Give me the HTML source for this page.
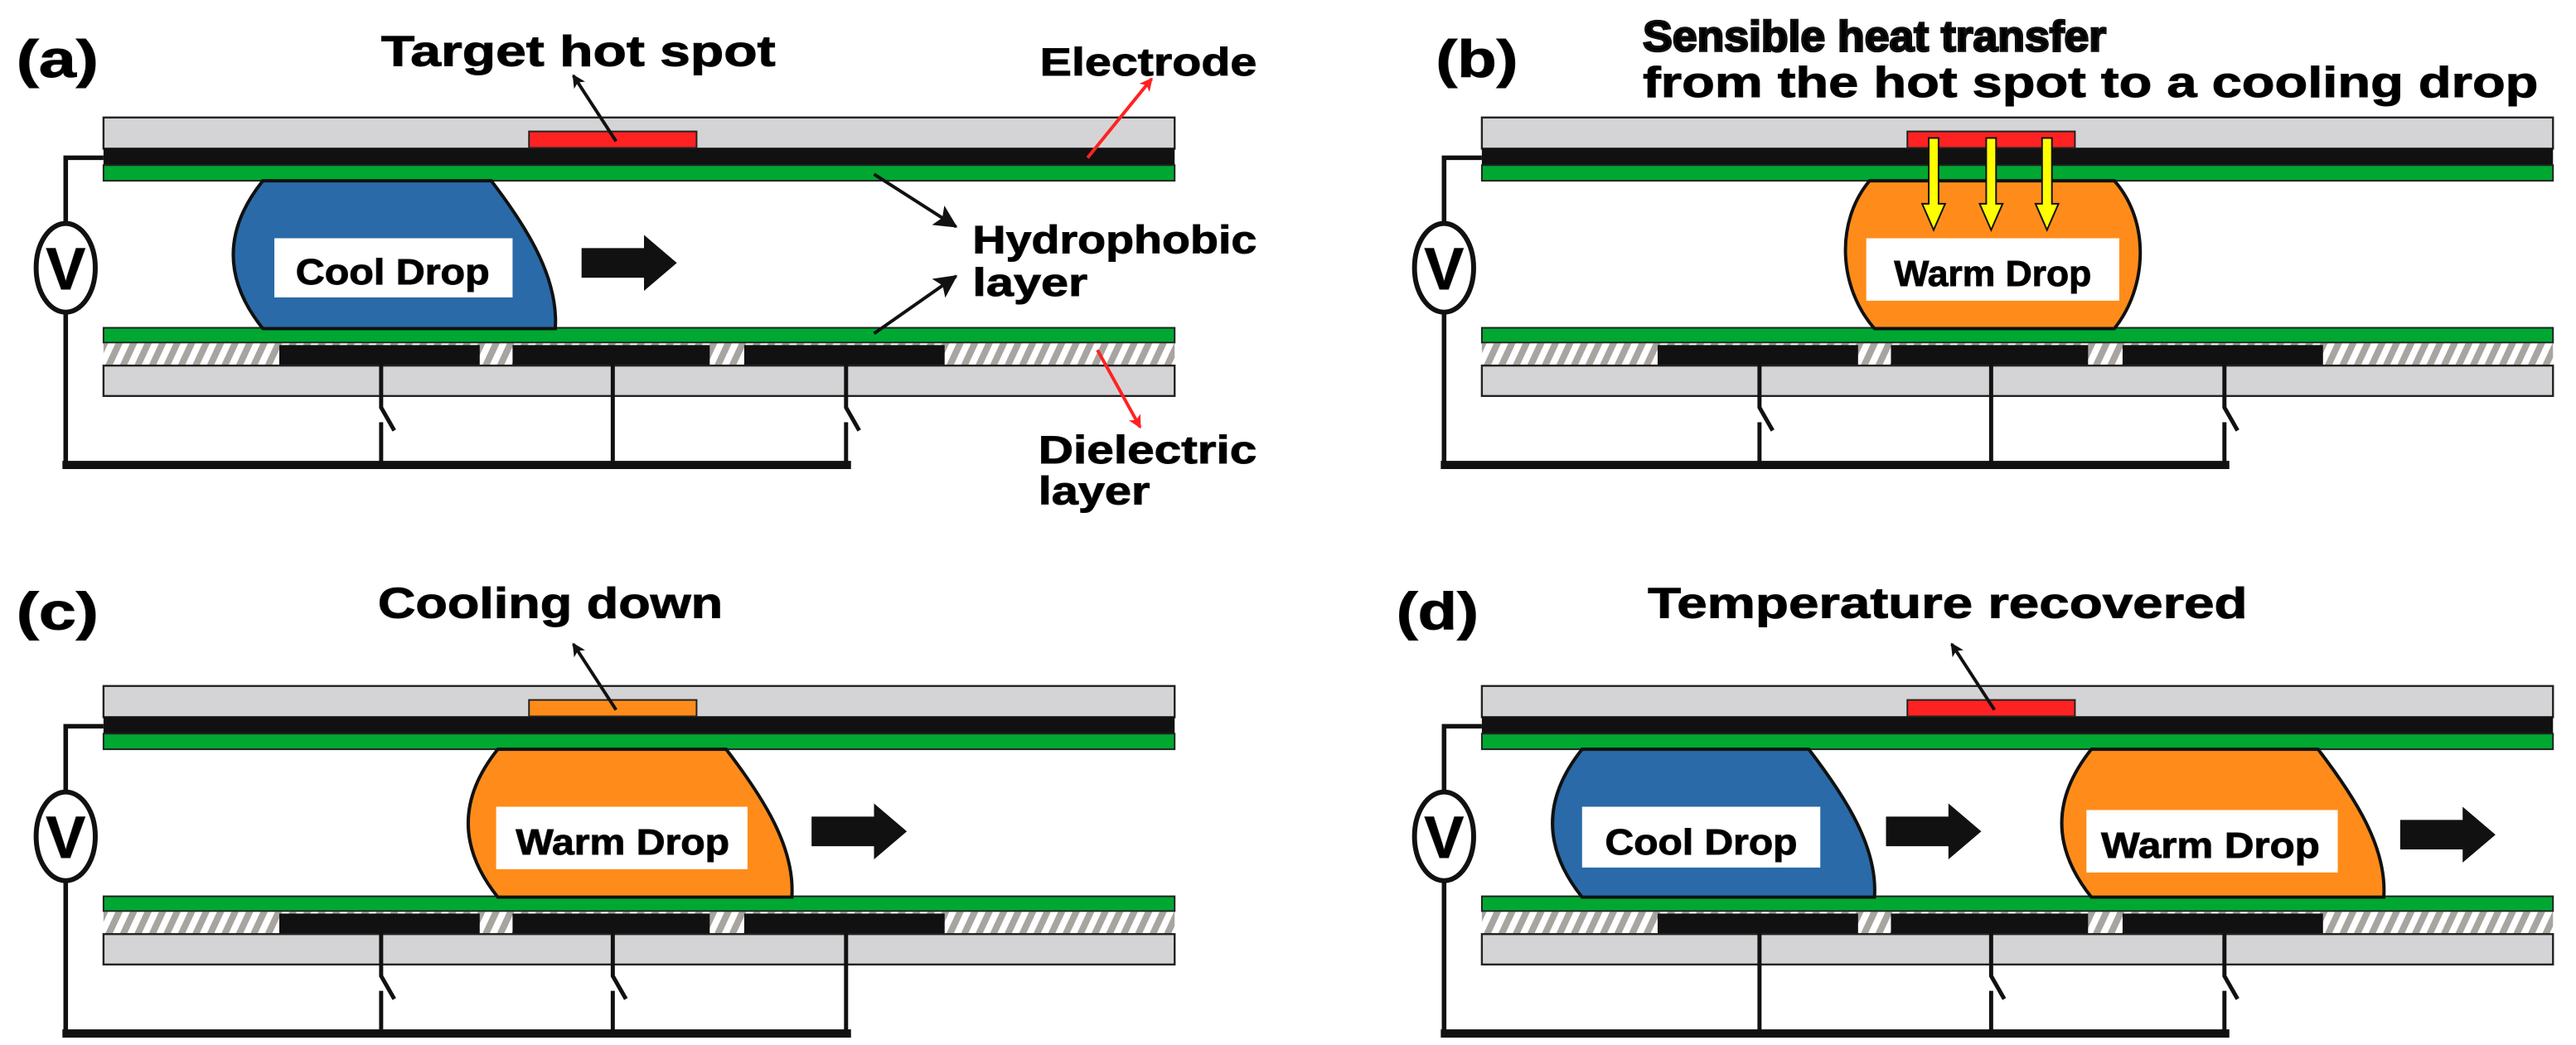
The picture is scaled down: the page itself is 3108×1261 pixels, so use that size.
<!DOCTYPE html>
<html><head><meta charset="utf-8"><style>html,body{margin:0;padding:0;background:#fff}svg{display:block}text{font-weight:bold;stroke:#111;stroke-width:0.5}</style></head>
<body>
<svg xmlns="http://www.w3.org/2000/svg" width="3108" height="1261" viewBox="0 0 1568 636" preserveAspectRatio="none" font-family="Liberation Sans, sans-serif" font-weight="bold">
<defs>
<pattern id="h" width="8" height="8" patternUnits="userSpaceOnUse" patternTransform="rotate(25)">
<rect width="8" height="8" fill="#fff"/><rect width="4" height="8" fill="#a8a4a0"/>
</pattern>
<marker id="ab" markerWidth="8" markerHeight="8" refX="7" refY="4" orient="auto" markerUnits="userSpaceOnUse"><path d="M0,0 L8,4 L0,8 L2,4z" fill="#111"/></marker>
<marker id="ar" markerWidth="8" markerHeight="8" refX="7" refY="4" orient="auto" markerUnits="userSpaceOnUse"><path d="M0,0 L8,4 L0,8 L2,4z" fill="#f22"/></marker>
<marker id="abig" markerWidth="14" markerHeight="14" refX="13" refY="7" orient="auto" markerUnits="userSpaceOnUse"><path d="M0,0 L14,7 L0,14 L3,7z" fill="#111"/></marker>
<g id="base">
<rect x="63" y="71.5" width="652" height="19" fill="#d4d4d6" stroke="#222" stroke-width="1.2"/>
<rect x="63" y="90" width="652" height="10.5" fill="#111"/>
<rect x="63" y="100.5" width="652" height="9.5" fill="#00a832" stroke="#222" stroke-width="1"/>
<rect x="63" y="199.5" width="652" height="9" fill="#00a832" stroke="#222" stroke-width="1"/>
<rect x="63" y="209" width="652" height="13" fill="url(#h)"/>
<rect x="170" y="210" width="122" height="12" fill="#111"/>
<rect x="312" y="210" width="120" height="12" fill="#111"/>
<rect x="453" y="210" width="122" height="12" fill="#111"/>
<rect x="63" y="222.5" width="652" height="18.5" fill="#d4d4d6" stroke="#222" stroke-width="1.2"/>
<path d="M63,96 H40 V136 M40,191 V282" stroke="#111" stroke-width="2.8" fill="none"/>
<ellipse cx="40" cy="163" rx="18" ry="27" fill="#fff" stroke="#111" stroke-width="3"/>
<text x="40" y="176" font-size="36" text-anchor="middle" textLength="24" lengthAdjust="spacingAndGlyphs">V</text>
<path d="M38,283 H518" stroke="#111" stroke-width="5"/>
</g>
</defs>

<!-- panel a -->
<use href="#base"/>
<rect x="322" y="80" width="102" height="10" fill="#f22" stroke="#222" stroke-width="1"/>
<g stroke="#111" stroke-width="2.5" fill="none">
<path d="M232,222 V248 L240,262 M232,257 V282"/>
<path d="M373,222 V282"/>
<path d="M515,222 V248 L523,262 M515,257 V282"/>
</g>
<path d="M160,110 L299,110 C322,140 340,170 338,200 L160,200 C136,170 136,140 160,110z" fill="#2a6aa8" stroke="#111" stroke-width="2"/>
<rect x="167" y="145" width="145" height="36" fill="#fff"/>
<text x="180" y="173" font-size="22" textLength="118" lengthAdjust="spacingAndGlyphs">Cool Drop</text>
<path d="M354,151 H392 V143 L412,160 L392,177 V169 H354z" fill="#111"/>
<text x="10" y="47" font-size="32" textLength="50" lengthAdjust="spacingAndGlyphs">(a)</text>
<text x="232" y="40" font-size="26" textLength="240" lengthAdjust="spacingAndGlyphs">Target hot spot</text>
<text x="633" y="46" font-size="24" textLength="132" lengthAdjust="spacingAndGlyphs">Electrode</text>
<text x="592" y="154" font-size="24" textLength="173" lengthAdjust="spacingAndGlyphs">Hydrophobic</text>
<text x="592" y="180" font-size="24" textLength="70" lengthAdjust="spacingAndGlyphs">layer</text>
<text x="632" y="282" font-size="24" textLength="133" lengthAdjust="spacingAndGlyphs">Dielectric</text>
<text x="632" y="307" font-size="24" textLength="68" lengthAdjust="spacingAndGlyphs">layer</text>
<line x1="375" y1="86" x2="349" y2="46" stroke="#111" stroke-width="2" marker-end="url(#ab)"/>
<line x1="662" y1="96" x2="701" y2="48" stroke="#f22" stroke-width="2" marker-end="url(#ar)"/>
<line x1="532" y1="106" x2="582" y2="138" stroke="#111" stroke-width="2" marker-end="url(#abig)"/>
<line x1="532" y1="203" x2="582" y2="168" stroke="#111" stroke-width="2" marker-end="url(#abig)"/>
<line x1="668" y1="213" x2="694" y2="260" stroke="#f22" stroke-width="2" marker-end="url(#ar)"/>

<!-- panel b -->
<g transform="translate(839,0)">
<use href="#base"/>
<rect x="322" y="80" width="102" height="10" fill="#f22" stroke="#222" stroke-width="1"/>
<g stroke="#111" stroke-width="2.5" fill="none">
<path d="M232,222 V248 L240,262 M232,257 V282"/>
<path d="M373,222 V282"/>
<path d="M515,222 V248 L523,262 M515,257 V282"/>
</g>
<path d="M299,110 L448,110 C470,135 468,175 448,200 L302,200 C280,175 278,135 299,110z" fill="#ff8c1a" stroke="#111" stroke-width="2"/>
<rect x="297" y="145" width="154" height="38" fill="#fff"/>
<text x="314" y="174" font-size="22" textLength="120" lengthAdjust="spacingAndGlyphs">Warm Drop</text>
<g fill="#ff0" stroke="#111" stroke-width="1">
<path d="M335,84 h6 v40 h4 l-7,16 l-7,-16 h4z"/>
<path d="M370,84 h6 v40 h4 l-7,16 l-7,-16 h4z"/>
<path d="M404,84 h6 v40 h4 l-7,16 l-7,-16 h4z"/>
</g>
<text x="35" y="47" font-size="32" textLength="50" lengthAdjust="spacingAndGlyphs">(b)</text>
</g>
<text x="1000" y="31" font-size="26" style="stroke-width:1.3" textLength="282" lengthAdjust="spacingAndGlyphs">Sensible heat transfer</text>
<text x="1000" y="59" font-size="26" textLength="545" lengthAdjust="spacingAndGlyphs">from the hot spot to a cooling drop</text>

<!-- panel c -->
<g transform="translate(0,346)">
<use href="#base"/>
<rect x="322" y="80" width="102" height="10" fill="#ff8c1a" stroke="#222" stroke-width="1"/>
<g stroke="#111" stroke-width="2.5" fill="none">
<path d="M232,222 V248 L240,262 M232,257 V282"/>
<path d="M373,222 V248 L381,262 M373,257 V282"/>
<path d="M515,222 V282"/>
</g>
<path d="M303,110 L442,110 C465,140 484,170 482,200 L303,200 C279,170 279,140 303,110z" fill="#ff8c1a" stroke="#111" stroke-width="2"/>
<rect x="302" y="145" width="153" height="38" fill="#fff"/>
<text x="314" y="174" font-size="22" textLength="130" lengthAdjust="spacingAndGlyphs">Warm Drop</text>
<path d="M494,151 H532 V143 L552,160 L532,177 V169 H494z" fill="#111"/>
<text x="10" y="37" font-size="32" textLength="50" lengthAdjust="spacingAndGlyphs">(c)</text>
<text x="230" y="30" font-size="26" textLength="210" lengthAdjust="spacingAndGlyphs">Cooling down</text>
<line x1="375" y1="86" x2="349" y2="46" stroke="#111" stroke-width="2" marker-end="url(#ab)"/>
</g>

<!-- panel d -->
<g transform="translate(839,346)">
<use href="#base"/>
<rect x="322" y="80" width="102" height="10" fill="#f22" stroke="#222" stroke-width="1"/>
<g stroke="#111" stroke-width="2.5" fill="none">
<path d="M232,222 V282"/>
<path d="M373,222 V248 L381,262 M373,257 V282"/>
<path d="M515,222 V248 L523,262 M515,257 V282"/>
</g>
<path d="M124,110 L262,110 C285,140 304,170 302,200 L124,200 C100,170 100,140 124,110z" fill="#2a6aa8" stroke="#111" stroke-width="2"/>
<rect x="124" y="145" width="145" height="37" fill="#fff"/>
<text x="138" y="174" font-size="22" textLength="117" lengthAdjust="spacingAndGlyphs">Cool Drop</text>
<path d="M309,151 H347 V143 L367,160 L347,177 V169 H309z" fill="#111"/>
<path d="M434,110 L572,110 C595,140 614,170 612,200 L434,200 C410,170 410,140 434,110z" fill="#ff8c1a" stroke="#111" stroke-width="2"/>
<rect x="431" y="147" width="153" height="38" fill="#fff"/>
<text x="440" y="176" font-size="22" textLength="133" lengthAdjust="spacingAndGlyphs">Warm Drop</text>
<path d="M622,153 H660 V145 L680,162 L660,179 V171 H622z" fill="#111"/>
<text x="11" y="37" font-size="32" textLength="50" lengthAdjust="spacingAndGlyphs">(d)</text>
<text x="164" y="30" font-size="26" textLength="365" lengthAdjust="spacingAndGlyphs">Temperature recovered</text>
<line x1="375" y1="86" x2="349" y2="46" stroke="#111" stroke-width="2" marker-end="url(#ab)"/>
</g>
</svg>
</body></html>
